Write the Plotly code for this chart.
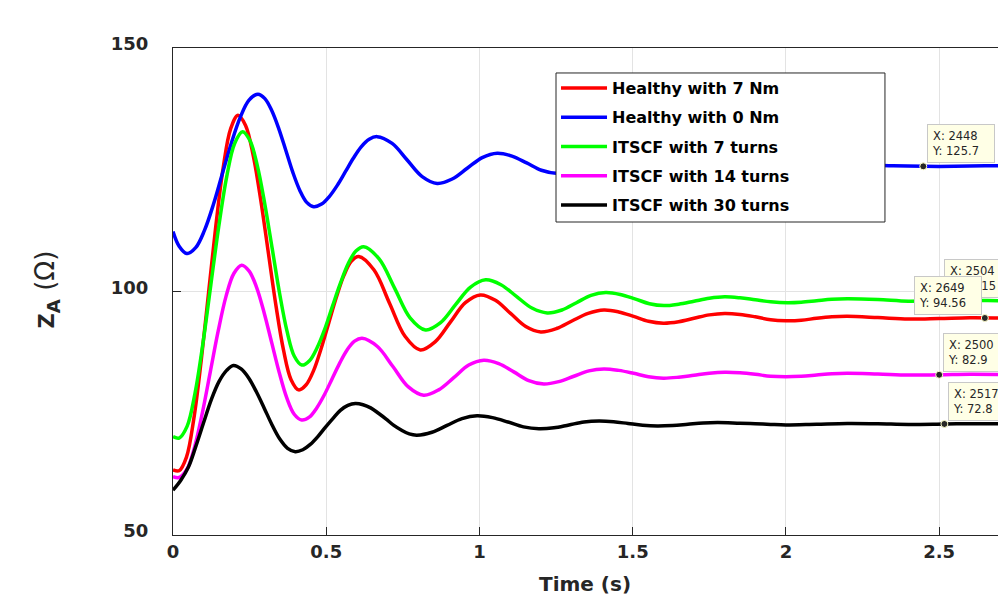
import plotly.graph_objects as go

# ---------------- data ----------------
t_blue = [0, 0.02, 0.045, 0.074, 0.103, 0.132, 0.161, 0.19, 0.219, 0.248, 0.277, 0.2998, 0.3225,
          0.3453, 0.368, 0.3908, 0.4135, 0.4363, 0.459, 0.4849, 0.51, 0.5366, 0.5625, 0.5884,
          0.614, 0.6401, 0.666, 0.715, 0.764, 0.813, 0.862, 0.911, 0.96, 1.009, 1.058, 1.106,
          1.154, 1.202, 1.25, 1.3, 1.35, 1.4, 1.45, 1.5, 1.55, 1.6, 1.65, 1.7, 1.75, 1.8, 1.85,
          1.95, 2.05, 2.15, 2.25, 2.35, 2.45, 2.55, 2.65, 2.75]
z_blue = [112.3, 109.3, 107.8, 109.0, 112.6, 117.9, 124.2, 130.4, 135.7, 139.3, 140.5, 139.6,
          137.1, 133.4, 129.0, 124.5, 120.8, 118.3, 117.4, 117.95, 119.5, 121.85, 124.6, 127.35,
          129.7, 131.25, 131.8, 130.4, 127.0, 123.6, 122.2, 123.1, 125.3, 127.5, 128.4, 127.8,
          126.4, 124.9, 124.3, 124.7, 125.6, 126.4, 126.8, 126.6, 126.0, 125.4, 125.1, 125.3,
          125.7, 126.0, 126.2, 126.0, 125.5, 125.6, 125.9, 125.8, 125.7, 125.7, 125.8, 125.8]

t_red = [0, 0.02, 0.044, 0.068, 0.092, 0.116, 0.14, 0.164, 0.188, 0.212, 0.2368, 0.2615, 0.2863,
         0.311, 0.3357, 0.3605, 0.3853, 0.41, 0.4345, 0.459, 0.4835, 0.508, 0.5325, 0.557,
         0.5815, 0.606, 0.656, 0.7065, 0.757, 0.807, 0.856, 0.905, 0.954, 1.003, 1.052, 1.1015,
         1.151, 1.2, 1.2515, 1.303, 1.3545, 1.406, 1.4545, 1.503, 1.5515, 1.6, 1.65, 1.7, 1.75,
         1.8, 1.85, 1.9, 1.95, 2.0, 2.05, 2.1, 2.15, 2.2, 2.3, 2.4, 2.5, 2.6, 2.7, 2.75]
z_red = [63.4, 63.2, 66.0, 73.9, 85.8, 99.7, 113.6, 125.5, 133.4, 136.2, 134.1, 128.0, 118.8,
         108.0, 97.2, 88.0, 81.9, 79.8, 80.85, 83.8, 88.3, 93.5, 98.7, 103.2, 106.2, 107.2,
         104.4, 97.6, 90.8, 88.0, 89.7, 93.7, 97.7, 99.3, 98.2, 95.5, 92.8, 91.7, 92.4, 94.0,
         95.5, 96.2, 95.8, 94.9, 93.9, 93.5, 93.8, 94.5, 95.2, 95.5, 95.3, 94.8, 94.2, 94.0,
         94.1, 94.5, 94.8, 94.9, 94.65, 94.35, 94.45, 94.6, 94.55, 94.5]

t_green = [0, 0.02, 0.0459, 0.0718, 0.0976, 0.1235, 0.1494, 0.1753, 0.2011, 0.227, 0.2511,
           0.2753, 0.2994, 0.3235, 0.3476, 0.3718, 0.3959, 0.42, 0.4453, 0.4705, 0.4958, 0.521,
           0.5463, 0.5715, 0.5968, 0.622, 0.6725, 0.723, 0.7735, 0.824, 0.873, 0.922, 0.971,
           1.02, 1.07, 1.1205, 1.171, 1.221, 1.269, 1.3165, 1.364, 1.412, 1.4595, 1.507, 1.5545,
           1.602, 1.65, 1.7, 1.75, 1.8, 1.85, 1.9, 1.95, 2.005, 2.05, 2.1, 2.15, 2.2, 2.3, 2.4,
           2.5, 2.6, 2.7, 2.75]
z_green = [70.2, 69.9, 72.3, 79.1, 89.3, 101.4, 113.4, 123.6, 130.4, 132.8, 131.0, 125.8, 118.0,
           108.9, 99.7, 91.9, 86.7, 84.9, 85.8, 88.5, 92.4, 97.1, 101.7, 105.7, 108.3, 109.2,
           106.7, 100.7, 94.6, 92.1, 93.6, 97.3, 100.9, 102.4, 101.4, 99.0, 96.6, 95.6, 96.2,
           97.7, 99.2, 99.8, 99.4, 98.5, 97.5, 97.1, 97.4, 98.0, 98.6, 98.9, 98.7, 98.3, 97.9,
           97.7, 97.8, 98.1, 98.4, 98.5, 98.35, 98.0, 98.15, 98.2, 98.1, 98.1]

t_mag = [0, 0.02, 0.0455, 0.071, 0.0965, 0.122, 0.1475, 0.173, 0.1985, 0.224, 0.2485, 0.273,
         0.2975, 0.322, 0.3465, 0.371, 0.3955, 0.42, 0.4446, 0.469, 0.4939, 0.5185, 0.5431,
         0.568, 0.5924, 0.617, 0.667, 0.7175, 0.768, 0.818, 0.867, 0.916, 0.965, 1.014, 1.063,
         1.112, 1.161, 1.21, 1.259, 1.308, 1.357, 1.406, 1.4545, 1.503, 1.5515, 1.6, 1.65, 1.7,
         1.75, 1.8, 1.85, 1.9, 1.95, 2.0, 2.05, 2.1, 2.15, 2.2, 2.3, 2.4, 2.5, 2.6, 2.7, 2.75]
z_mag = [62.0, 61.8, 63.5, 68.2, 75.3, 83.6, 91.9, 99.0, 103.7, 105.4, 104.2, 100.8, 95.6, 89.5,
         83.4, 78.2, 74.8, 73.6, 74.2, 76.1, 78.8, 82.0, 85.2, 88.0, 89.8, 90.4, 88.7, 84.6,
         80.4, 78.7, 79.8, 82.3, 84.9, 85.9, 85.2, 83.5, 81.7, 81.0, 81.5, 82.6, 83.7, 84.1,
         83.8, 83.2, 82.5, 82.2, 82.4, 82.8, 83.2, 83.4, 83.3, 83.0, 82.6, 82.5, 82.6, 82.85,
         83.1, 83.2, 83.05, 82.85, 82.9, 83.0, 82.95, 82.9]

t_black = [0, 0.025, 0.05, 0.075, 0.1, 0.125, 0.15, 0.175, 0.197, 0.2223, 0.2475, 0.2728, 0.298,
           0.3233, 0.3485, 0.3738, 0.399, 0.4235, 0.448, 0.4725, 0.497, 0.5215, 0.546, 0.5705,
           0.595, 0.6201, 0.645, 0.6704, 0.6955, 0.7206, 0.746, 0.7709, 0.796, 0.845, 0.894,
           0.943, 0.992, 1.0425, 1.093, 1.1435, 1.194, 1.243, 1.292, 1.341, 1.39, 1.4375, 1.485,
           1.5325, 1.58, 1.63, 1.68, 1.73, 1.777, 1.85, 1.9, 1.95, 2.0, 2.1, 2.2, 2.3, 2.4, 2.52,
           2.6, 2.75]
z_black = [59.2, 61.2, 63.9, 68.3, 73.1, 77.8, 81.5, 83.8, 84.8, 84.1, 82.2, 79.3, 76.0, 72.6,
           69.7, 67.8, 67.1, 67.5, 68.6, 70.2, 72.1, 73.9, 75.6, 76.6, 77.0, 76.75, 76.1, 75.0,
           73.8, 72.5, 71.5, 70.75, 70.5, 71.1, 72.5, 73.9, 74.5, 74.1, 73.2, 72.2, 71.8, 72.0,
           72.6, 73.2, 73.4, 73.25, 72.9, 72.55, 72.4, 72.5, 72.75, 73.0, 73.1, 72.95, 72.85,
           72.7, 72.6, 72.75, 72.9, 72.85, 72.7, 72.8, 72.85, 72.8]

names = ["Healthy with 7 Nm", "Healthy with 0 Nm", "ITSCF with 7 turns",
         "ITSCF with 14 turns", "ITSCF with 30 turns"]
colors = ["#ff0000", "#0000ff", "#00ff00", "#ff00ff", "#000000"]
series_t = [t_red, t_blue, t_green, t_mag, t_black]
series_z = [z_red, z_blue, z_green, z_mag, z_black]

# data tips (sample index, value); sample period 1 ms
tip_idx = [2448, 2504, 2649, 2500, 2517]
tip_val = [125.7, 98.15, 94.56, 82.9, 72.8]
tip_side = ["right", "right", "left", "right", "right"]
sample_period = 0.001

x_ticks = [0, 0.5, 1, 1.5, 2, 2.5]
y_ticks = [50, 100, 150]

# ---------------- figure ----------------
fig = go.Figure()
for i, (nm, col, tt, zz) in enumerate(zip(names, colors, series_t, series_z)):
    fig.add_trace(go.Scatter(x=tt, y=zz, mode="lines", name=nm, legendgroup=f"g{i}",
                             line=dict(color=col, width=3.5, shape="spline", smoothing=1.0)))

tip_t = [k * sample_period for k in tip_idx]
fig.add_trace(go.Scatter(x=tip_t, y=tip_val, mode="markers", showlegend=False,
                         marker=dict(size=7, color="#262626", line=dict(color="#ffffcc", width=1))))

ann = []
for k, tt, v, side in zip(tip_idx, tip_t, tip_val, tip_side):
    ann.append(dict(x=tt, y=v, xref="x", yref="y", showarrow=False,
                    text=f"X: {k}<br>Y: {v:g}", align="left", width=58,
                    xanchor="left" if side == "right" else "right", yanchor="bottom",
                    xshift=4 if side == "right" else -3, yshift=3,
                    bgcolor="#ffffe6", bordercolor="#c8c8c8", borderwidth=1, borderpad=4,
                    font=dict(family="DejaVu Sans", size=11.5, color="#262626")))

ann.append(dict(x=-0.152, y=0.505, xref="paper", yref="paper", showarrow=False,
                textangle=-90, xanchor="center", yanchor="middle",
                text="<span style='font-size:21px'><b>Z</b></span><sub><b>A</b></sub> (Ω)",
                font=dict(family="DejaVu Sans", size=26, color="#262626")))
ann.append(dict(x=0.4946, y=-0.1006, xref="paper", yref="paper", showarrow=False,
                xanchor="center", yanchor="middle", text="<b>Time (s)</b>",
                font=dict(family="DejaVu Sans", size=20, color="#262626")))

shapes = [
    dict(type="rect", xref="paper", yref="paper", x0=0.4598, x1=0.8547, y0=0.6427, y1=0.9487,
         fillcolor="white", line=dict(color="#262626", width=1), layer="above"),
]

fig.update_layout(
    width=998, height=587,
    margin=dict(l=165, r=0, t=40, b=60),
    paper_bgcolor="white", plot_bgcolor="white",
    showlegend=True,
    legend=dict(x=0.4598, y=0.9528, xanchor="left", yanchor="top",
                bgcolor="rgba(0,0,0,0)", borderwidth=0, itemwidth=46,
                tracegroupgap=5.5, traceorder="grouped",
                font=dict(family="DejaVu Sans", size=16, color="black", weight="bold")),
    annotations=ann,
    shapes=shapes,
)

fig.update_xaxes(range=[0, 2.718], tickvals=x_ticks, showgrid=True, gridcolor="#e3e3e3",
                 gridwidth=1, zeroline=False, showline=True, linecolor="#262626", linewidth=1,
                 mirror=True, ticks="inside", ticklen=8, tickcolor="#262626",
                 tickfont=dict(family="DejaVu Sans", size=18, color="#262626", weight="bold"),
                 ticklabelstandoff=0)
fig.update_yaxes(range=[50, 150], tickvals=y_ticks, showgrid=True, gridcolor="#e3e3e3",
                 gridwidth=1, zeroline=False, showline=True, linecolor="#262626", linewidth=1,
                 mirror=False, ticks="inside", ticklen=8, tickcolor="#262626",
                 tickfont=dict(family="DejaVu Sans", size=18, color="#262626", weight="bold"),
                 ticklabelstandoff=20, ticklabelshift=-4)

fig.write_html("out.html")
